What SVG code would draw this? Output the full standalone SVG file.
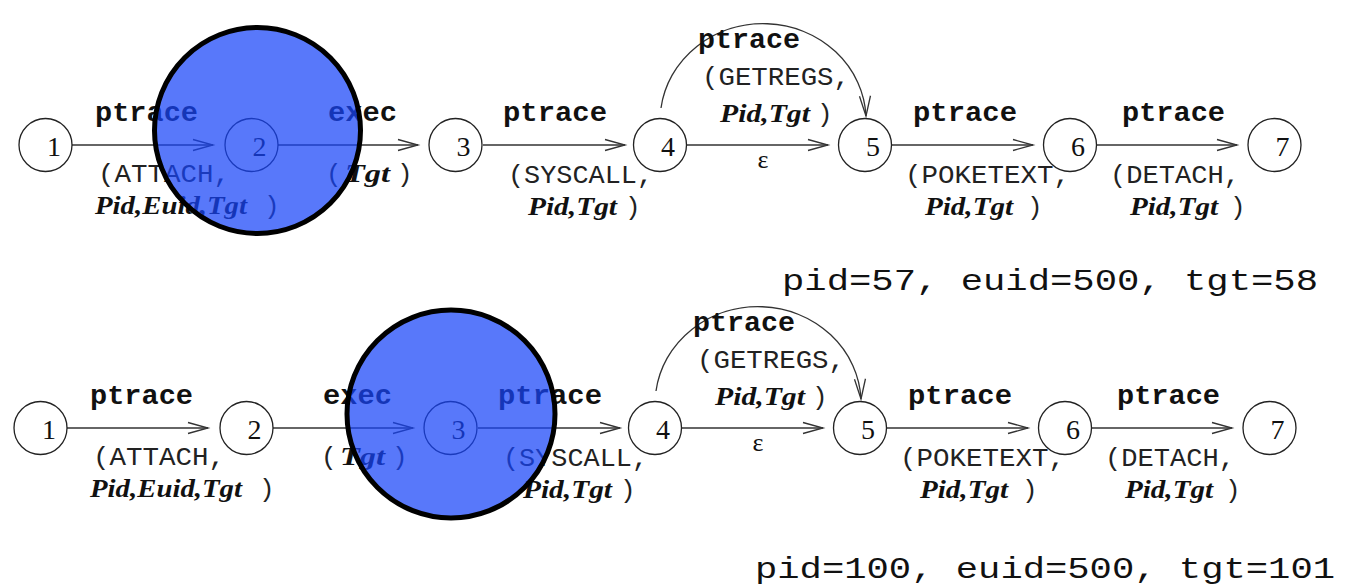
<svg xmlns="http://www.w3.org/2000/svg" width="1352" height="586" viewBox="0 0 1352 586">
  <style>
    .node circle { fill: #fff; stroke: #222; stroke-width: 1.3; }
    .num { font-family: "Liberation Serif", serif; font-size: 28px; text-anchor: middle; fill: #111; }
    .op { font-family: "Liberation Mono", monospace; font-weight: bold; font-size: 27px; fill: #111; }
    .arg { font-family: "Liberation Mono", monospace; font-size: 26px; fill: #222; }
    .var { font-family: "Liberation Serif", serif; font-weight: bold; font-style: italic; font-size: 26px; fill: #111; }
    .eps { font-family: "Liberation Serif", serif; font-size: 26px; fill: #111; text-anchor: middle; }
    .edge { fill: none; stroke: #333; stroke-width: 1.3; marker-end: url(#arr); }
    .vals { font-family: "Liberation Mono", monospace; font-size: 30px; fill: #111; }
    .hl { fill: #1744f8; fill-opacity: 0.72; stroke: #000; stroke-width: 5; }
  </style>
  <defs>
    <marker id="arr" markerUnits="userSpaceOnUse" markerWidth="30" markerHeight="20" viewBox="-24 -10 30 20" refX="0" refY="0" orient="auto" overflow="visible">
      <path d="M-20,-5.5 L0,0 L-20,5.5" fill="none" stroke="#333" stroke-width="1.3"/>
    </marker>
  </defs>

  <!-- first trace: state machine row -->
  <g id="trace1">
    <g id="trace1-edges">
      <path class="edge" d="M72,145 H213"/>
      <path class="edge" d="M278,145 H418"/>
      <path class="edge" d="M483,145 H625"/>
      <path class="edge" d="M661,108 A103,97 0 0 1 866,116"/>
      <path class="edge" d="M687,145 H828"/>
      <path class="edge" d="M892,145 H1033"/>
      <path class="edge" d="M1097,145 H1237"/>

      <!-- 1 -> 2 -->
      <text class="op" x="95" y="121" textLength="103" lengthAdjust="spacingAndGlyphs">ptrace</text>
      <text class="arg" x="98" y="182" textLength="132" lengthAdjust="spacingAndGlyphs">(ATTACH,</text>
      <text class="var" x="95" y="214" textLength="152" lengthAdjust="spacingAndGlyphs">Pid,Euid,Tgt</text>
      <text class="arg" x="264" y="214">)</text>
      <!-- 2 -> 3 -->
      <text class="op" x="328" y="121" textLength="69" lengthAdjust="spacingAndGlyphs">exec</text>
      <text class="arg" x="326" y="182">(</text>
      <text class="var" x="345" y="182" textLength="45" lengthAdjust="spacingAndGlyphs">Tgt</text>
      <text class="arg" x="397" y="182">)</text>
      <!-- 3 -> 4 -->
      <text class="op" x="503" y="121" textLength="104" lengthAdjust="spacingAndGlyphs">ptrace</text>
      <text class="arg" x="508" y="183" textLength="145" lengthAdjust="spacingAndGlyphs">(SYSCALL,</text>
      <text class="var" x="528" y="215" textLength="89" lengthAdjust="spacingAndGlyphs">Pid,Tgt</text>
      <text class="arg" x="625" y="215">)</text>
      <!-- 4 -> 5 (arc) -->
      <text class="op" x="698" y="48" textLength="102" lengthAdjust="spacingAndGlyphs">ptrace</text>
      <text class="arg" x="702" y="85" textLength="148" lengthAdjust="spacingAndGlyphs">(GETREGS,</text>
      <text class="var" x="720" y="122" textLength="90" lengthAdjust="spacingAndGlyphs">Pid,Tgt</text>
      <text class="arg" x="817" y="122">)</text>
      <!-- 4 -> 5 (empty) -->
      <text class="eps" x="763" y="168">ε</text>
      <!-- 5 -> 6 -->
      <text class="op" x="913" y="121" textLength="104" lengthAdjust="spacingAndGlyphs">ptrace</text>
      <text class="arg" x="905" y="183" textLength="165" lengthAdjust="spacingAndGlyphs">(POKETEXT,</text>
      <text class="var" x="925" y="215" textLength="88" lengthAdjust="spacingAndGlyphs">Pid,Tgt</text>
      <text class="arg" x="1027" y="215">)</text>
      <!-- 6 -> 7 -->
      <text class="op" x="1122" y="121" textLength="103" lengthAdjust="spacingAndGlyphs">ptrace</text>
      <text class="arg" x="1110" y="183" textLength="130" lengthAdjust="spacingAndGlyphs">(DETACH,</text>
      <text class="var" x="1130" y="215" textLength="88" lengthAdjust="spacingAndGlyphs">Pid,Tgt</text>
      <text class="arg" x="1230" y="215">)</text>
    </g>
    <g id="trace1-s1" class="node"><circle cx="45.5" cy="145" r="26.5"/><text class="num" x="54" y="156">1</text></g>
    <g id="trace1-s2" class="node"><circle cx="251.5" cy="145" r="26.5"/><text class="num" x="259.5" y="156">2</text></g>
    <g id="trace1-s3" class="node"><circle cx="455.5" cy="145" r="26.5"/><text class="num" x="463.5" y="156">3</text></g>
    <g id="trace1-s4" class="node"><circle cx="660" cy="145" r="26.5"/><text class="num" x="668" y="156">4</text></g>
    <g id="trace1-s5" class="node"><circle cx="865" cy="145" r="26.5"/><text class="num" x="873" y="156">5</text></g>
    <g id="trace1-s6" class="node"><circle cx="1070" cy="145" r="26.5"/><text class="num" x="1078" y="156">6</text></g>
    <g id="trace1-s7" class="node"><circle cx="1274.5" cy="145" r="26.5"/><text class="num" x="1282.5" y="156">7</text></g>
    <text class="vals" x="782" y="290" textLength="536" lengthAdjust="spacingAndGlyphs">pid=57, euid=500, tgt=58</text>
  </g>

  <!-- second trace: same machine, shifted -->
  <g id="trace2" transform="translate(-5,283)">
    <g id="trace2-edges">
      <path class="edge" d="M72,145 H213"/>
      <path class="edge" d="M278,145 H418"/>
      <path class="edge" d="M483,145 H625"/>
      <path class="edge" d="M661,108 A103,97 0 0 1 866,116"/>
      <path class="edge" d="M687,145 H828"/>
      <path class="edge" d="M892,145 H1033"/>
      <path class="edge" d="M1097,145 H1237"/>

      <text class="op" x="95" y="121" textLength="103" lengthAdjust="spacingAndGlyphs">ptrace</text>
      <text class="arg" x="98" y="182" textLength="132" lengthAdjust="spacingAndGlyphs">(ATTACH,</text>
      <text class="var" x="95" y="214" textLength="152" lengthAdjust="spacingAndGlyphs">Pid,Euid,Tgt</text>
      <text class="arg" x="264" y="214">)</text>
      <text class="op" x="328" y="121" textLength="69" lengthAdjust="spacingAndGlyphs">exec</text>
      <text class="arg" x="326" y="182">(</text>
      <text class="var" x="345" y="182" textLength="45" lengthAdjust="spacingAndGlyphs">Tgt</text>
      <text class="arg" x="397" y="182">)</text>
      <text class="op" x="503" y="121" textLength="104" lengthAdjust="spacingAndGlyphs">ptrace</text>
      <text class="arg" x="508" y="183" textLength="145" lengthAdjust="spacingAndGlyphs">(SYSCALL,</text>
      <text class="var" x="528" y="215" textLength="89" lengthAdjust="spacingAndGlyphs">Pid,Tgt</text>
      <text class="arg" x="625" y="215">)</text>
      <text class="op" x="698" y="48" textLength="102" lengthAdjust="spacingAndGlyphs">ptrace</text>
      <text class="arg" x="702" y="85" textLength="148" lengthAdjust="spacingAndGlyphs">(GETREGS,</text>
      <text class="var" x="720" y="122" textLength="90" lengthAdjust="spacingAndGlyphs">Pid,Tgt</text>
      <text class="arg" x="817" y="122">)</text>
      <text class="eps" x="763" y="168">ε</text>
      <text class="op" x="913" y="121" textLength="104" lengthAdjust="spacingAndGlyphs">ptrace</text>
      <text class="arg" x="905" y="183" textLength="165" lengthAdjust="spacingAndGlyphs">(POKETEXT,</text>
      <text class="var" x="925" y="215" textLength="88" lengthAdjust="spacingAndGlyphs">Pid,Tgt</text>
      <text class="arg" x="1027" y="215">)</text>
      <text class="op" x="1122" y="121" textLength="103" lengthAdjust="spacingAndGlyphs">ptrace</text>
      <text class="arg" x="1110" y="183" textLength="130" lengthAdjust="spacingAndGlyphs">(DETACH,</text>
      <text class="var" x="1130" y="215" textLength="88" lengthAdjust="spacingAndGlyphs">Pid,Tgt</text>
      <text class="arg" x="1230" y="215">)</text>
    </g>
    <g id="trace2-s1" class="node"><circle cx="45.5" cy="145" r="26.5"/><text class="num" x="54" y="156">1</text></g>
    <g id="trace2-s2" class="node"><circle cx="251.5" cy="145" r="26.5"/><text class="num" x="259.5" y="156">2</text></g>
    <g id="trace2-s3" class="node"><circle cx="455.5" cy="145" r="26.5"/><text class="num" x="463.5" y="156">3</text></g>
    <g id="trace2-s4" class="node"><circle cx="660" cy="145" r="26.5"/><text class="num" x="668" y="156">4</text></g>
    <g id="trace2-s5" class="node"><circle cx="865" cy="145" r="26.5"/><text class="num" x="873" y="156">5</text></g>
    <g id="trace2-s6" class="node"><circle cx="1070" cy="145" r="26.5"/><text class="num" x="1078" y="156">6</text></g>
    <g id="trace2-s7" class="node"><circle cx="1274.5" cy="145" r="26.5"/><text class="num" x="1282.5" y="156">7</text></g>
  </g>
  <text class="vals" x="755" y="578" textLength="580" lengthAdjust="spacingAndGlyphs">pid=100, euid=500, tgt=101</text>

  <!-- translucent markers over the current state of each trace -->
  <g id="marks">
    <circle id="mark1" class="hl" cx="257.5" cy="130.5" r="103"/>
    <circle id="mark2" class="hl" cx="451" cy="414" r="104"/>
  </g>
</svg>
